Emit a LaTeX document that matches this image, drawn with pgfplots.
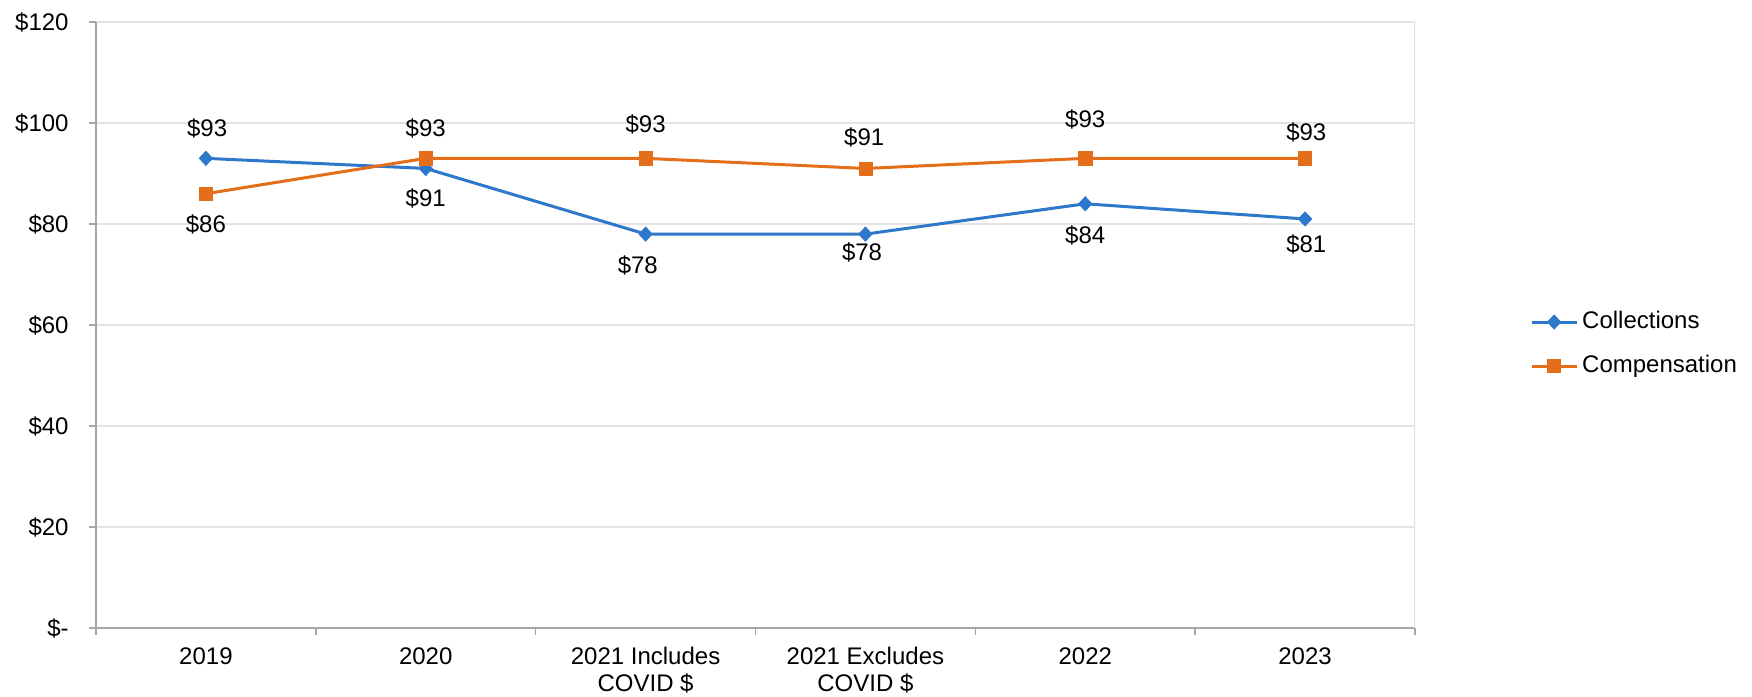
\documentclass[border=0pt]{standalone}
\usepackage{pgfplots}
\pgfplotsset{compat=1.18}
\usepackage{pgfplotstable}
\usepackage{fontspec}
\setmainfont{Liberation Sans}
\definecolor{cblue}{HTML}{2E78CC}
\definecolor{corange}{HTML}{E46E1A}
\definecolor{gridc}{HTML}{E3E3E3}
\definecolor{axc}{HTML}{A6A6A6}
\newcommand\lbl{\fontsize{12bp}{13.5bp}\selectfont}
\pgfplotstableread{
x y dx dy
0 93 0.6 15.1
1 91 0 -15.1
2 78 -3.9 -15.6
3 78 -1.7 -9
4 84 0 -15.6
5 81 0.6 -12.8
}\collections
\pgfplotstableread{
x y dx dy
0 86 0 -15.6
1 93 0 15.1
2 93 0 16.8
3 91 -0.6 15.6
4 93 0 19.5
5 93 0.6 12.8
}\compensation
\begin{document}
\begin{tikzpicture}
\useasboundingbox (-48bp,-34.5bp) rectangle (828bp,314bp);
\begin{axis}[
  scale only axis, width=659.5bp, height=303bp,
  at={(0,0)}, anchor=south west,
  xmin=-0.5, xmax=5.5, ymin=0, ymax=120,
  axis x line*=bottom, axis y line*=left,
  axis line style={-, draw=axc, line width=1bp},
  tick align=outside,
  major tick length=3.5bp,
  tick style={draw=axc, line width=0.8bp},
  xtick={-0.5,0.5,...,5.5}, xticklabels={},
  extra x ticks={0,1,2,3,4,5},
  extra x tick labels={2019,2020,{2021 Includes\\COVID \$},{2021 Excludes\\COVID \$},2022,2023},
  extra x tick style={major tick length=0pt, grid=none},
  xticklabel style={font=\lbl, align=center, inner sep=0pt, anchor=north, yshift=-9.5bp},
  ytick={0,20,...,120},
  yticklabels={\$-,\$20,\$40,\$60,\$80,\$100,\$120},
  yticklabel style={font=\lbl, inner sep=0pt, anchor=east, xshift=-10bp},
  ymajorgrids, major grid style={draw=gridc, line width=1bp},
  /pgf/number format/assume math mode=true,
  legend style={at={(1.087,0.4686)}, anchor=west, draw=none, fill=none, inner sep=0pt,
    font=\lbl, row sep=10.8bp, column sep=2bp,
    nodes={inner sep=0pt, text height=8.6bp, text depth=2.6bp}},
  legend cell align=left,
  legend image code/.code={\draw[#1, mark repeat=2, mark phase=2] plot coordinates {(0bp,0bp) (11.25bp,0bp) (22.5bp,0bp)};},
  nodes near coords={\$\pgfmathprintnumber{\pgfplotspointmeta}},
  every node near coord/.append style={font=\lbl, text=black, anchor=center, inner sep=0pt, xshift=\dx bp, yshift=\dy bp},
]
\draw[gridc, line width=1bp] (rel axis cs:1,0) -- (rel axis cs:1,1);
\addplot[cblue, line width=1.5bp, mark=diamond*, mark size=3.6bp, mark options={xscale=1.25, fill=cblue, draw=cblue, line width=0.3bp},
  visualization depends on={\thisrow{dx} \as \dx},
  visualization depends on={\thisrow{dy} \as \dy}]
  table[x=x, y=y] {\collections};
\addlegendentry{Collections}
\addplot[corange, line width=1.5bp, mark=square*, mark size=3.3bp, mark options={fill=corange, draw=corange, line width=0.3bp},
  visualization depends on={\thisrow{dx} \as \dx},
  visualization depends on={\thisrow{dy} \as \dy}]
  table[x=x, y=y] {\compensation};
\addlegendentry{Compensation}
\end{axis}
\end{tikzpicture}
\end{document}
